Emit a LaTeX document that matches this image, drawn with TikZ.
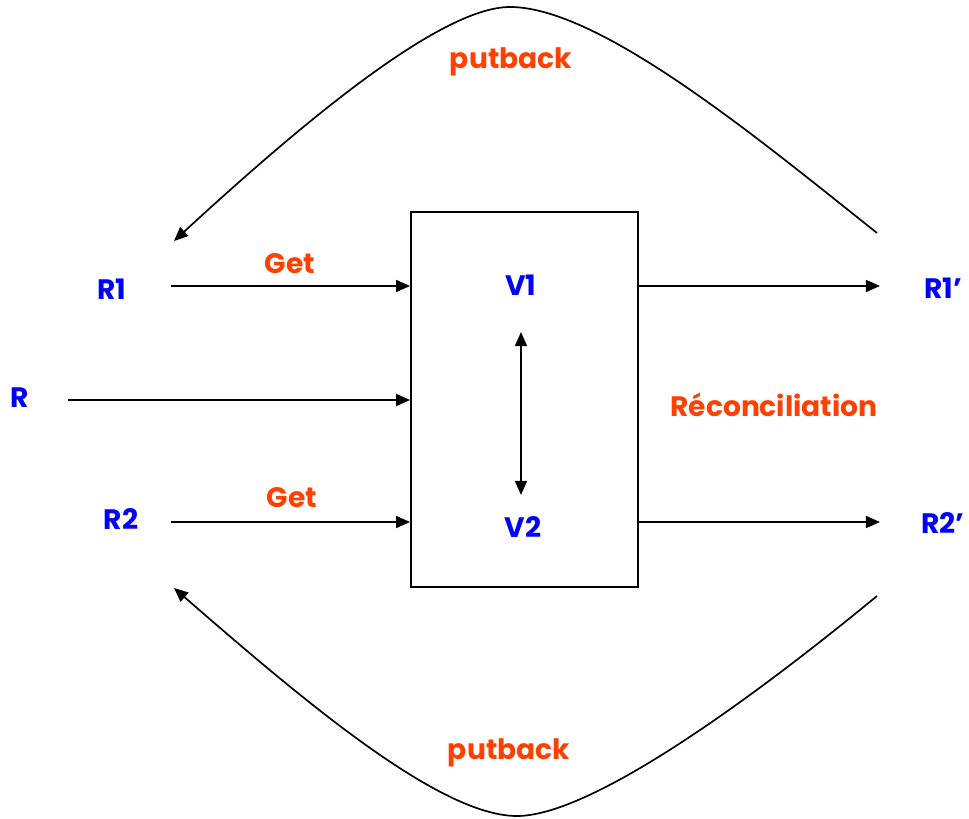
\documentclass[tikz,border=0pt]{standalone}
\usepackage{fontspec}
\setmainfont{Poppins}
\usetikzlibrary{arrows.meta}
\definecolor{refblue}{RGB}{0,0,255}
\definecolor{reforange}{RGB}{255,64,0}

\begin{document}
\begin{tikzpicture}[x=0.025cm, y=-0.025cm, every node/.style={font=\fontsize{20}{24}\selectfont\bfseries}, >={Triangle[length=10pt,width=8.5pt]}, line width=1.2pt]
	\useasboundingbox (0,0) rectangle (969,819);
	\node[draw, inner sep=0pt, minimum width=5.675cm, minimum height=9.375cm] (box) at (524.5,399.5) {};
	\node[refblue] (V1) at (521,285) {V1};
	\node[refblue] (V2) at (523,527) {V2};
	\node[refblue] (R1) at (112,289) {R1};
	\node[refblue] (R) at (20,398) {R};
	\node[refblue] (R2) at (121,519) {R2};
	\node[refblue] (R1p) at (943,288) {R1'};
	\node[refblue] (R2p) at (943,523) {R2'};
	\node[reforange] (get1) at (290,264) {Get};
	\node[reforange] (get2) at (292,498) {Get};
	\node[reforange] (rec) at (774,405) {Réconciliation};
	\node[reforange] (put1) at (511,62) {putback};
	\node[reforange] (put2) at (509,753) {putback};
	\coordinate (r1start) at (171,286);
	\coordinate (rstart) at (68,400);
	\coordinate (r2start) at (171,522);
	\coordinate (r1end) at (880,286);
	\coordinate (r2end) at (880,522);
	\foreach \n in {r1start, rstart, r2start}
		\draw[->] (\n) -- (box.west |- \n);
	\foreach \n in {r1end, r2end}
		\draw[->] (box.east |- \n) -- (\n);
	\coordinate (va) at (521,332);
	\coordinate (vb) at (521,495);
	\draw[<->] (va) -- (vb);
	\coordinate (ta) at (877,233);
	\coordinate (tb) at (174,241);
	\coordinate (ba) at (877,596);
	\coordinate (bb) at (174,588);
	\draw[->] (ta) .. controls (760,140) and (600,7) .. (510,7) .. controls (440,7) and (300,125) .. (tb);
	\draw[->] (ba) .. controls (747,703) and (590,816) .. (517,816) .. controls (440,816) and (305,702) .. (bb);
\end{tikzpicture}
\end{document}
